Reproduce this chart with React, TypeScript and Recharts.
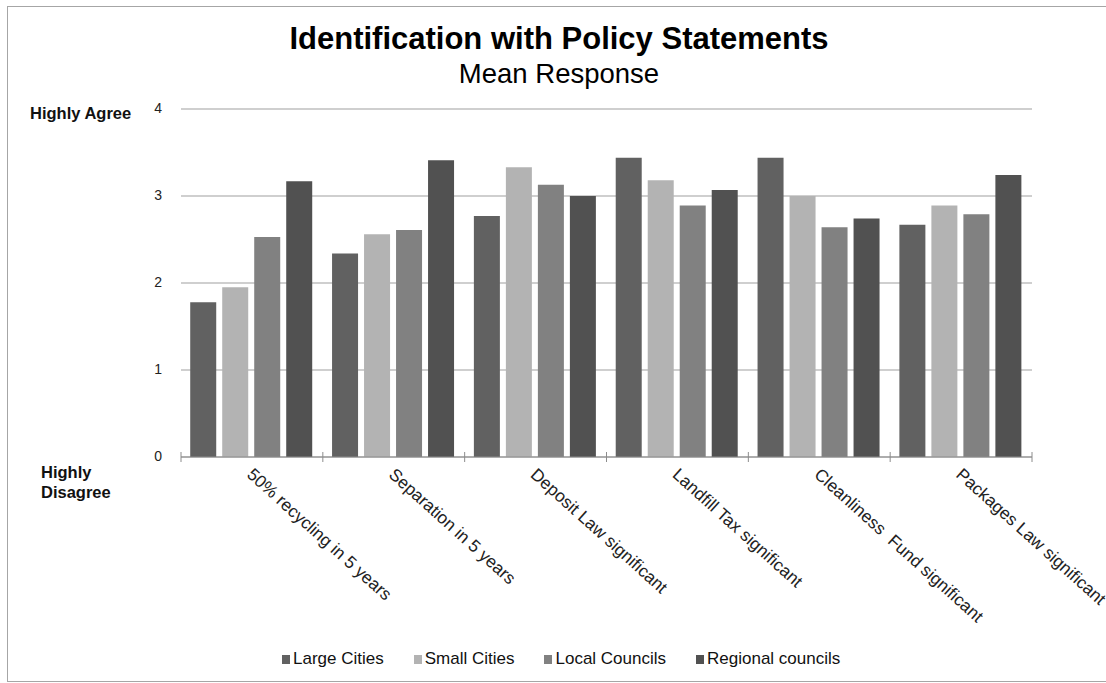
import React from 'react';
import { BarChart, Bar, XAxis, YAxis, CartesianGrid, Legend } from 'recharts';

const categories = [
  '50% recycling in 5 years',
  'Separation in 5 years',
  'Deposit Law significant',
  'Landfill Tax significant',
  'Cleanliness  Fund significant',
  'Packages Law significant',
];
const largeCities = [1.78, 2.34, 2.77, 3.44, 3.44, 2.67];
const smallCities = [1.95, 2.56, 3.33, 3.18, 3.0, 2.89];
const localCouncils = [2.53, 2.61, 3.13, 2.89, 2.64, 2.79];
const regionalCouncils = [3.17, 3.41, 3.0, 3.07, 2.74, 3.24];
const yTicks = [0, 1, 2, 3, 4];

const seriesNames = ['Large Cities', 'Small Cities', 'Local Councils', 'Regional councils'];
const seriesColors = ['#616161', '#b3b3b3', '#818181', '#515151'];

const data = categories.map((c, i) => ({
  name: c,
  large: largeCities[i],
  small: smallCities[i],
  local: localCouncils[i],
  regional: regionalCouncils[i],
}));

const FONT = '"Liberation Sans", Arial, sans-serif';

const XTick = (props: any) => {
  const { x, y, payload, index } = props;
  const half = payload && payload.offset ? payload.offset : 70.9;
  const tx = x - 6;
  const ty = y + 19;
  return (
    <g>
      <line x1={x - half} x2={x - half} y1={y - 5} y2={y + 5} stroke="#8c8c8c" />
      {index === categories.length - 1 && (
        <line x1={x + half} x2={x + half} y1={y - 5} y2={y + 5} stroke="#8c8c8c" />
      )}
      <text
        x={tx}
        y={ty}
        transform={`rotate(42 ${tx} ${ty})`}
        fontSize={17.3}
        fill="#222"
        fontFamily={FONT}
        style={{ whiteSpace: 'pre' }}
      >
        {payload.value}
      </text>
    </g>
  );
};

const YTick = (props: any) => {
  const { x, y, payload } = props;
  return (
    <g>
      <text x={x} y={y} dy={4} textAnchor="end" fontSize={14} fill="#222" fontFamily={FONT}>
        {payload.value}
      </text>
      {payload.value === 4 && (
        <text x={30} y={y + 10} fontSize={16.5} fontWeight="bold" fill="#111" fontFamily={FONT}>
          Highly Agree
        </text>
      )}
      {payload.value === 0 && (
        <text x={41} y={y + 21} fontSize={16.5} fontWeight="bold" fill="#111" fontFamily={FONT}>
          <tspan x={41}>Highly</tspan>
          <tspan x={41} dy={20}>Disagree</tspan>
        </text>
      )}
    </g>
  );
};

const LegendContent = () => (
  <div style={{ display: 'flex', alignItems: 'center', fontFamily: FONT, fontSize: 17, color: '#111' }}>
    {seriesNames.map((n, i) => (
      <div key={n} style={{ display: 'flex', alignItems: 'center', marginRight: 30 }}>
        <span style={{ display: 'inline-block', width: 8, height: 9, background: seriesColors[i], marginRight: 3 }} />
        <span>{n}</span>
      </div>
    ))}
  </div>
);

export default function App() {
  return (
    <div style={{ position: 'absolute', left: 0, top: 0, width: 1106, height: 683, background: '#fff', overflow: 'hidden' }}>
      <div
        style={{
          position: 'absolute',
          left: 7,
          top: 6,
          width: 1099,
          height: 676,
          borderTop: '1px solid #a6a6a6',
          borderLeft: '1px solid #a6a6a6',
          borderBottom: '1px solid #a6a6a6',
          boxSizing: 'border-box',
        }}
      />
      <div
        style={{
          position: 'absolute',
          left: 0,
          top: 23,
          width: 1118,
          textAlign: 'center',
          fontFamily: FONT,
          fontWeight: 'bold',
          fontSize: 31,
          lineHeight: '31px',
          color: '#000',
        }}
      >
        Identification with Policy Statements
      </div>
      <div
        style={{
          position: 'absolute',
          left: 0,
          top: 60,
          width: 1118,
          textAlign: 'center',
          fontFamily: FONT,
          fontSize: 27.5,
          lineHeight: '27px',
          color: '#000',
        }}
      >
        Mean Response
      </div>
      <div style={{ position: 'absolute', left: 0, top: 0 }}>
        <BarChart
          width={1106}
          height={683}
          data={data}
          margin={{ top: 109, right: 74, left: 0, bottom: 0 }}
          barCategoryGap="6.5%"
          barGap={6}
        >
          <CartesianGrid vertical={false} stroke="#a0a0a0" strokeWidth={1.2} />
          <XAxis
            dataKey="name"
            height={226}
            interval={0}
            tickLine={false}
            tickSize={0}
            tickMargin={0}
            axisLine={{ stroke: '#8c8c8c', strokeWidth: 1.2 }}
            tick={<XTick />}
          />
          <YAxis
            width={181}
            domain={[0, 4]}
            ticks={yTicks}
            axisLine={false}
            tickLine={false}
            tickSize={0}
            tickMargin={19}
            tick={<YTick />}
          />
          <Legend
            layout="horizontal"
            verticalAlign="middle"
            align="center"
            content={<LegendContent />}
            wrapperStyle={{ top: 649, left: 282, width: 800, height: 22 }}
          />
          <Bar dataKey="large" name={seriesNames[0]} fill={seriesColors[0]} isAnimationActive={false} />
          <Bar dataKey="small" name={seriesNames[1]} fill={seriesColors[1]} isAnimationActive={false} />
          <Bar dataKey="local" name={seriesNames[2]} fill={seriesColors[2]} isAnimationActive={false} />
          <Bar dataKey="regional" name={seriesNames[3]} fill={seriesColors[3]} isAnimationActive={false} />
        </BarChart>
      </div>
    </div>
  );
}
